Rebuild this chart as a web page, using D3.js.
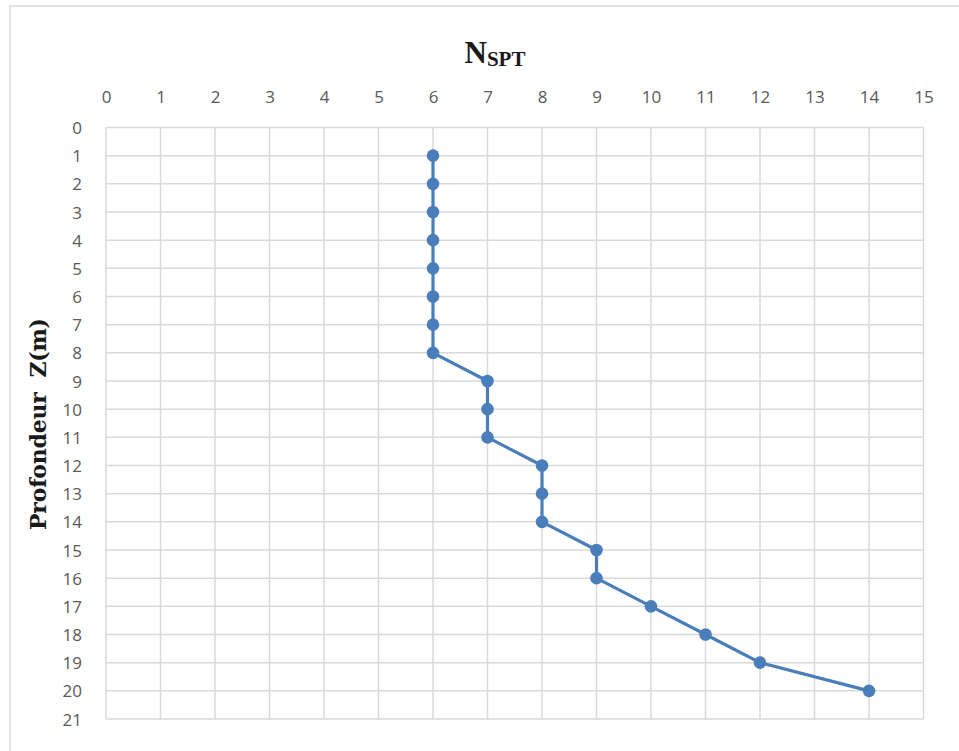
<!DOCTYPE html>
<html>
<head>
<meta charset="utf-8">
<script src="https://cdn.jsdelivr.net/npm/d3@7"></script>
<style>
  html, body { margin: 0; padding: 0; background: #fff; }
  svg { display: block; }
</style>
</head>
<body>
<svg id="chart" width="959" height="751"></svg>
<script>
// SPT profile: blow count N versus depth Z
const depths = [1, 2, 3, 4, 5, 6, 7, 8, 9, 10, 11, 12, 13, 14, 15, 16, 17, 18, 19, 20];
const nspt   = [6, 6, 6, 6, 6, 6, 6, 6, 7, 7, 7, 8, 8, 8, 9, 9, 10, 11, 12, 14];
const xTicks = d3.range(0, 16);
const yTicks = d3.range(0, 22);

const svg = d3.select("#chart");
const W = 959, H = 751;
const plot = { left: 106, top: 127.5, right: 923.5, bottom: 719 };
const blue = "#4a7ebb";
const grid = "#d9d9d9";
const tickColor = "#595959";

// outer chart frame
svg.append("rect")
  .attr("x", 10).attr("y", 6)
  .attr("width", W).attr("height", H)
  .attr("fill", "#fff")
  .attr("stroke", "#d9d9d9").attr("stroke-width", 1.5);

const x = d3.scaleLinear().domain([0, 15]).range([plot.left, plot.right]);
const y = d3.scaleLinear().domain([0, 21]).range([plot.top, plot.bottom]);

// gridlines
const g = svg.append("g");
g.selectAll("line.v").data(xTicks).join("line")
  .attr("x1", d => x(d)).attr("x2", d => x(d))
  .attr("y1", plot.top).attr("y2", plot.bottom)
  .attr("stroke", grid).attr("stroke-width", 1.5);
g.selectAll("line.h").data(yTicks).join("line")
  .attr("y1", d => y(d)).attr("y2", d => y(d))
  .attr("x1", plot.left).attr("x2", plot.right)
  .attr("stroke", grid).attr("stroke-width", 1.5);

// axes (top x axis, left y axis), labels only
const xAxis = d3.axisTop(x).tickValues(xTicks).tickSize(0).tickPadding(0);
const yAxis = d3.axisLeft(y).tickValues(yTicks).tickSize(0).tickPadding(0);

const tickFont = "'Open Sans', 'Liberation Sans', sans-serif";

const gx = svg.append("g").attr("transform", `translate(0, 103)`).call(xAxis);
gx.select(".domain").remove();
gx.selectAll("text")
  .attr("fill", tickColor)
  .style("font-family", tickFont)
  .style("font-size", "17px");

const gy = svg.append("g").attr("transform", `translate(82, 0)`).call(yAxis);
gy.select(".domain").remove();
gy.selectAll("text")
  .attr("fill", tickColor)
  .attr("dy", "0.36em")
  .style("font-family", tickFont)
  .style("font-size", "17px");

// data line and markers
const pts = depths.map((d, i) => ({ z: d, n: nspt[i] }));
const line = d3.line().x(d => x(d.n)).y(d => y(d.z));
svg.append("path")
  .datum(pts)
  .attr("d", line)
  .attr("fill", "none")
  .attr("stroke", blue)
  .attr("stroke-width", 3.2)
  .attr("stroke-linejoin", "round");
svg.selectAll("circle.pt").data(pts).join("circle")
  .attr("class", "pt")
  .attr("cx", d => x(d.n)).attr("cy", d => y(d.z))
  .attr("r", 6.3)
  .attr("fill", blue);

// chart title N_SPT
const title = svg.append("text")
  .attr("x", 495).attr("y", 63)
  .attr("text-anchor", "middle")
  .attr("fill", "#1a1a1a")
  .style("font-family", "'Liberation Serif', 'DejaVu Serif', serif")
  .style("font-weight", "bold");
title.append("tspan").style("font-size", "31px").text("N");
title.append("tspan").style("font-size", "21px").attr("dy", 3).text("SPT");

// vertical axis title
svg.append("text")
  .attr("transform", `translate(46, 424) rotate(-90)`)
  .attr("text-anchor", "middle")
  .attr("fill", "#1a1a1a")
  .attr("textLength", 212)
  .attr("lengthAdjust", "spacing")
  .style("font-family", "'DejaVu Serif', 'Liberation Serif', serif")
  .style("font-weight", "bold")
  .style("font-size", "22px")
  .style("white-space", "pre")
  .text("Profondeur  Z(m)");
</script>
</body>
</html>
